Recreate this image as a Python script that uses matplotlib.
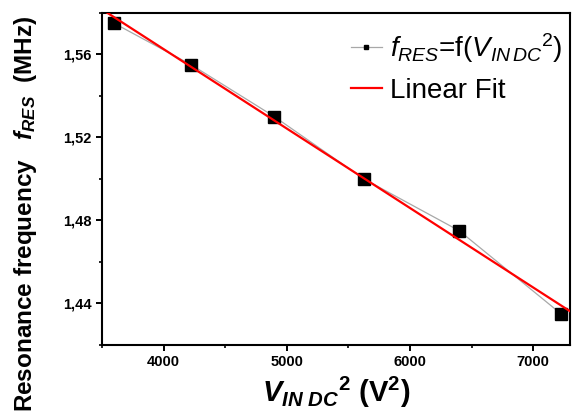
import numpy as np
import matplotlib
matplotlib.use('Agg')
import matplotlib.pyplot as plt
from matplotlib.ticker import FixedLocator, FuncFormatter

# datos
v_sq = [3600, 4225, 4900, 5625, 6400, 7225]
f_res = [1.575, 1.555, 1.530, 1.500, 1.475, 1.435]
x_ticks = [4000, 5000, 6000, 7000]
y_ticks = [1.44, 1.48, 1.52, 1.56]

plt.rcParams['font.family'] = ['Liberation Sans', 'DejaVu Sans']
plt.rcParams['mathtext.fontset'] = 'custom'
plt.rcParams['mathtext.rm'] = 'Liberation Sans'
plt.rcParams['mathtext.it'] = 'Liberation Sans:italic'
plt.rcParams['mathtext.bf'] = 'Liberation Sans:bold'
plt.rcParams['mathtext.bfit'] = 'Liberation Sans:italic:bold'

fig = plt.figure(figsize=(5.73, 4.19), dpi=100)
ax = fig.add_axes([0.178, 0.177, 0.817, 0.792])

xlim = (3500, 7300)
coef = np.polyfit(v_sq, f_res, 1)
x_fit = np.array(xlim)

ax.plot(v_sq, f_res, color='#a8a8a8', lw=0.9, marker='s', ms=8,
        mfc='black', mec='black', zorder=2,
        label=r'$f_{RES}$=f($V_{IN\,DC}{}^{2}$)')
ax.plot(x_fit, np.polyval(coef, x_fit), color='red', lw=1.6, zorder=3,
        label='Linear Fit')

ax.set_xlim(*xlim)
ax.set_ylim(1.42, 1.58)

ax.xaxis.set_major_locator(FixedLocator(x_ticks))
ax.xaxis.set_minor_locator(FixedLocator([3500, 4500, 5500, 6500]))
ax.yaxis.set_major_locator(FixedLocator(y_ticks))
ax.yaxis.set_minor_locator(FixedLocator([1.42, 1.46, 1.50, 1.54, 1.58]))
ax.yaxis.set_major_formatter(FuncFormatter(lambda v, p: f'{v:.2f}'.replace('.', ',')))

ax.tick_params(which='major', direction='out', length=4, width=1.4, labelsize=10.5)
ax.tick_params(which='minor', direction='out', length=2.5, width=1.2)
for lab in ax.get_xticklabels() + ax.get_yticklabels():
    lab.set_fontweight('bold')
for s in ax.spines.values():
    s.set_linewidth(1.5)

ax.set_xlabel(r'$\mathbfit{V}_{\mathbfit{IN\ DC}}{}^{\mathbf{2}}$ ($\mathbf{V}^{\mathbf{2}}$)',
              fontsize=21, fontweight='bold', labelpad=4)
ax.set_ylabel(r'Resonance frequency   $\mathbfit{f}_{\mathbfit{RES}}$  (MHz)',
              fontsize=17.5, fontweight='bold')
ax.yaxis.set_label_coords(-0.135, 0.395)

ax.legend(loc='upper left', bbox_to_anchor=(0.532, 0.945), frameon=False,
          fontsize=20, handlelength=1.1, handletextpad=0.3, labelspacing=0.45,
          borderpad=0, borderaxespad=0, markerscale=0.35)

plt.savefig('out.png', dpi=100)
plt.close()
